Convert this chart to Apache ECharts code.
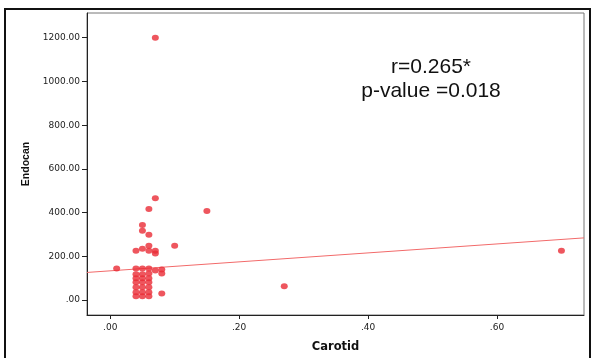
<!DOCTYPE html>
<html>
<head>
<meta charset="utf-8">
<script src="https://cdn.jsdelivr.net/npm/echarts@6/dist/echarts.min.js"></script>
<style>
  html, body { margin: 0; padding: 0; background: #fff; }
  #chart { width: 591px; height: 358px; }
</style>
</head>
<body>
<div id="chart"></div>
<script>
// carotid (x) / endocan (y) pairs
const carotid = [
  0.04, 0.04, 0.04, 0.04, 0.04, 0.04, 0.04, 0.04,
  0.05, 0.05, 0.05, 0.05, 0.05, 0.05, 0.05, 0.05, 0.05, 0.05,
  0.06, 0.06, 0.06, 0.06, 0.06, 0.06, 0.06, 0.06, 0.06, 0.06, 0.06,
  0.07, 0.07, 0.07, 0.07, 0.07,
  0.08, 0.08, 0.08,
  0.01, 0.10, 0.15, 0.27, 0.70
];
const endocan = [
  226, 145, 118, 100, 82, 59, 36, 18,
  344, 317, 235, 145, 118, 100, 82, 59, 36, 18,
  417, 299, 249, 226, 145, 122, 100, 82, 59, 36, 18,
  1200, 466, 226, 213, 136,
  140, 122, 30,
  145, 249, 408, 63, 226
];
const xTicks = [0, 0.2, 0.4, 0.6];
const yTicks = [0, 200, 400, 600, 800, 1000, 1200];
// fit line
const fitIntercept = 134;
const fitSlope = 205;
const statText = ['r=0.265*', 'p-value =0.018'];

const xMin = -0.036, xMax = 0.735;
const yMin = -68, yMax = 1313;

const points = carotid.map((c, i) => [c, endocan[i]]);
const fitLine = [xMin, xMax].map(x => [x, fitIntercept + fitSlope * x]);

const fmt = v => v.toFixed(2).replace(/^0\./, '.');

const chart = echarts.init(document.getElementById('chart'));
const option = {
  animation: false,
  textStyle: { fontFamily: 'Liberation Sans, Arial, sans-serif' },
  grid: {
    left: 87, top: 13, right: 7, bottom: 40,
    show: true, borderColor: '#777', borderWidth: 1
  },
  xAxis: {
    type: 'value',
    min: xMin, max: xMax,
    name: 'Carotid',
    nameLocation: 'middle',
    nameGap: 26,
    nameTextStyle: { fontWeight: 'bold', fontSize: 11.5, color: '#111', fontFamily: 'DejaVu Sans' },
    axisLine: { show: true, onZero: false, lineStyle: { color: '#222' } },
    axisTick: { show: true, customValues: xTicks, length: 4, lineStyle: { color: '#222' } },
    axisLabel: { customValues: xTicks, formatter: fmt, fontSize: 9, color: '#222', margin: 8, fontFamily: 'DejaVu Sans' },
    splitLine: { show: false }
  },
  yAxis: {
    type: 'value',
    min: yMin, max: yMax,
    name: 'Endocan',
    nameLocation: 'middle',
    nameGap: 51,
    nameRotate: 90,
    nameTextStyle: { fontWeight: 'bold', fontSize: 10.5, color: '#111' },
    axisLine: { show: true, onZero: false, lineStyle: { color: '#222' } },
    axisTick: { show: true, customValues: yTicks, length: 5, lineStyle: { color: '#222' } },
    axisLabel: { customValues: yTicks, formatter: fmt, fontSize: 9, color: '#222', margin: 7, fontFamily: 'DejaVu Sans' },
    splitLine: { show: false }
  },
  graphic: [
    {
      type: 'rect',
      shape: { x: 5, y: 9, width: 585, height: 360 },
      style: { fill: 'none', stroke: '#111', lineWidth: 2 },
      silent: true
    },
    {
      type: 'text',
      x: 431, y: 79,
      style: {
        text: statText.join('\n'),
        fontSize: 21, lineHeight: 24,
        fill: '#111', align: 'center', verticalAlign: 'middle',
        fontFamily: 'Liberation Sans, Arial, sans-serif'
      }
    }
  ],
  series: [
    {
      type: 'line',
      data: fitLine,
      symbol: 'none',
      lineStyle: { color: '#f26a6a', width: 1 },
      z: 1
    },
    {
      type: 'scatter',
      data: points,
      symbol: 'circle',
      symbolSize: [7, 6],
      itemStyle: { color: '#ea2c36' },
      z: 2
    }
  ]
};
chart.setOption(option);
</script>
</body>
</html>
